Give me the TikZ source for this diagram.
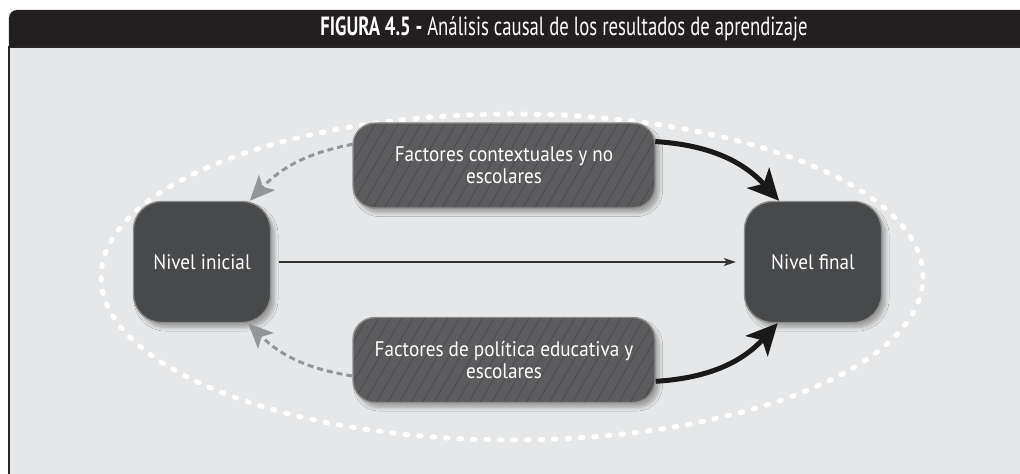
\documentclass[tikz,border=0pt]{standalone}
\usepackage{fontspec}
\setmainfont{PT Sans}[FakeStretch=0.91]
\newfontfamily\titlefont{PT Sans}[FakeStretch=0.71]
\usetikzlibrary{arrows.meta,patterns.meta,shadows.blur}
\definecolor{barblack}{HTML}{231F20}
\definecolor{panelgrey}{HTML}{E6E7E8}
\definecolor{levelgrey}{HTML}{48494B}
\definecolor{factorgrey}{HTML}{5C5C5E}
\definecolor{hatchgrey}{HTML}{444446}
\definecolor{backgrey}{HTML}{939598}
\tikzset{
  softshadow/.style={blur shadow={shadow xshift=0.08cm,shadow yshift=-0.1cm,shadow blur steps=8,shadow opacity=30}},
  levelbox/.style={softshadow,draw=black!45,line width=0.8pt,fill=levelgrey,rounded corners=0.56cm,
    minimum width=2.74cm,minimum height=2.42cm,text=white,font=\fontsize{12}{14}\selectfont},
  factorbox/.style={softshadow,preaction={fill=factorgrey},draw=black!45,line width=0.8pt,
    pattern={Lines[angle=60,distance=0.2cm,line width=0.3pt]},pattern color=hatchgrey,
    rounded corners=0.44cm,minimum width=6.04cm,minimum height=1.7cm,align=center,text=white,
    font=\fontsize{12}{12.8}\selectfont},
  backlink/.style={backgrey,line width=0.06cm,dash pattern=on 0.12cm off 0.08cm,
    -{Stealth[length=0.5cm,width=0.44cm,inset=0.12cm]}},
  forthlink/.style={black!90,line width=0.1cm,-{Stealth[length=0.62cm,width=0.6cm,inset=0.16cm]}},
}
\begin{document}
\begin{tikzpicture}
\useasboundingbox (0,0) rectangle (20.4,-9.48);
% frame
\fill[barblack] (0.18,-0.94) [rounded corners=0.16cm] -- (0.18,-0.2) -- (21,-0.2) [sharp corners] -- (21,-0.94) -- cycle;
\filldraw[fill=panelgrey,draw=black!85,line width=0.03cm] (0.18,-0.94) rectangle (21,-10);
\node[text=white,font=\titlefont\fontsize{15}{17}\selectfont] (title) at (11.28,-0.57)
  {\textbf{FIGURA 4.5 -} Análisis causal de los resultados de aprendizaje};
% dotted ring
\draw[white,line width=0.1cm,line cap=round,dash pattern=on 0.05cm off 0.22cm]
  (10.24,-5.54) ellipse [x radius=8.22,y radius=3.26];
% boxes
\node[levelbox] (ini) at (4.04,-5.24) {Nivel inicial};
\node[levelbox] (fin) at (16.26,-5.24) {Nivel final};
\node[factorbox] (ctx) at (10.08,-3.31) {Factores contextuales y no\\escolares};
\node[factorbox] (pol) at (10.08,-7.20) {Factores de política educativa y\\escolares};
% links
\draw[black!80,line width=0.03cm,-{Stealth[length=0.24cm,width=0.16cm,inset=0.06cm]},shorten <=0.16cm,shorten >=0.16cm]
  (ini.east) -- (fin.west);
\draw[backlink] (ctx.172) to[bend right=18] (ini.52);
\draw[backlink] (pol.186) to[bend left=18] (ini.-53);
\draw[forthlink] (ctx.9) to[bend left=22] (fin.119);
\draw[forthlink] (pol.-8) to[bend right=22] (fin.-120);
\end{tikzpicture}
\end{document}
